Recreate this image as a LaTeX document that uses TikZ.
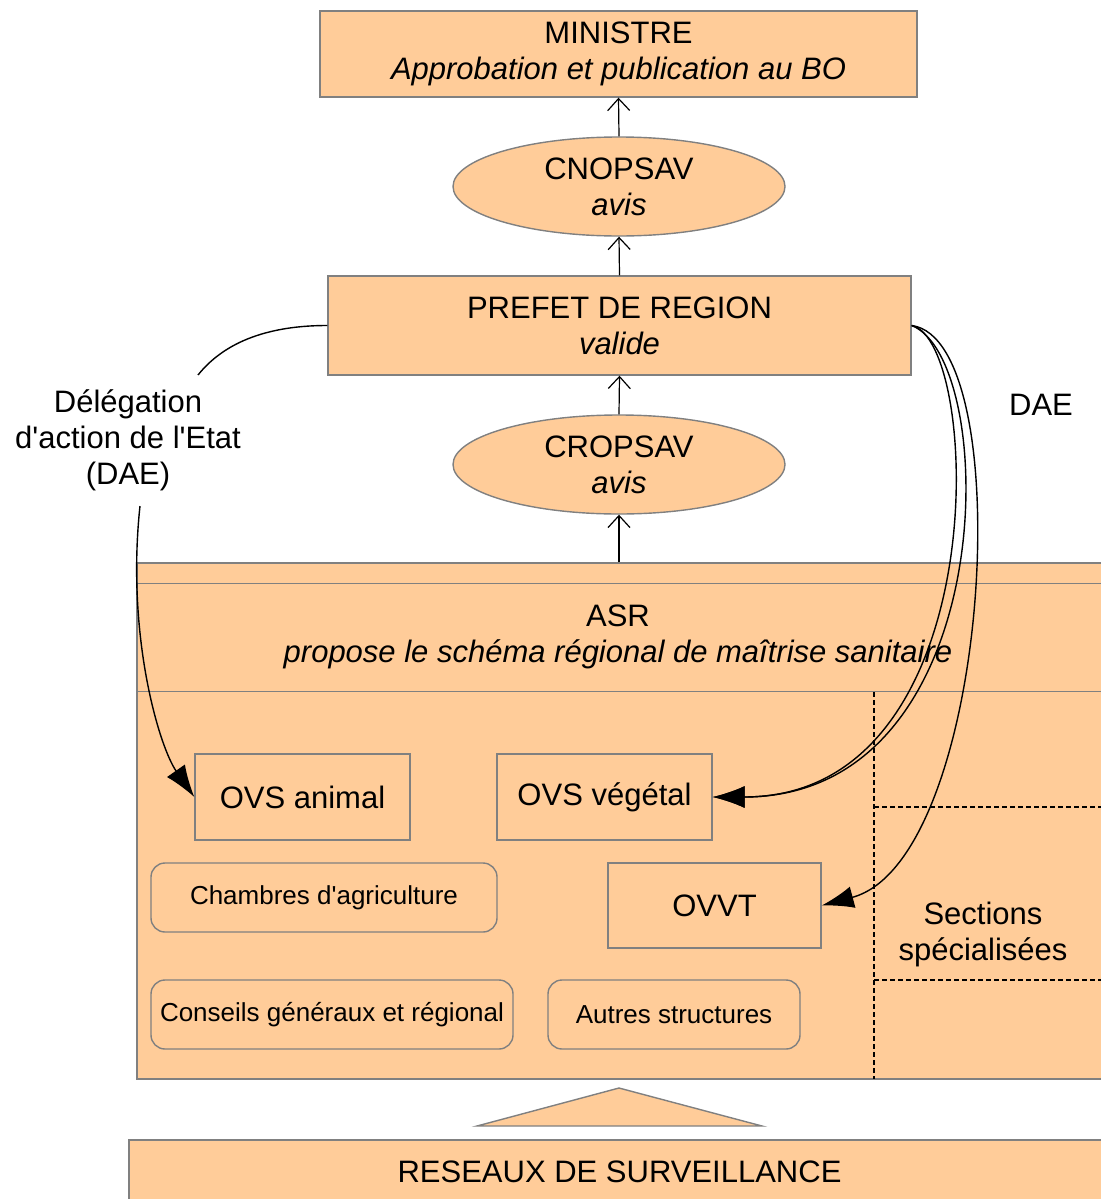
\documentclass[tikz,border=0pt]{standalone}
\usepackage{fontspec}
\setmainfont{Liberation Sans}[Ligatures=TeXOff]
\usetikzlibrary{shapes.geometric,arrows.meta}
\definecolor{peach}{RGB}{255,204,153}

\begin{document}
\begin{tikzpicture}[x=0.5pt,y=-0.5pt,
  font=\fontsize{15.5}{18}\selectfont,
  box/.style={draw=gray,fill=peach,line width=0.7pt,align=center,inner sep=0pt},
  oval/.style={box,ellipse,minimum width=166pt,minimum height=49.5pt},
  org/.style={box,rounded corners=7pt,minimum height=34.5pt,font=\fontsize{13}{15}\selectfont},
  up/.style={-{Straight Barb[length=6pt,width=11pt]},line width=0.6pt},
  dae/.style={-{Latex[length=16pt,width=11pt]},line width=0.7pt}]
  \useasboundingbox (0,0) rectangle (1100,1199);

  % chain of opinions up to the ministre
  \node[box,minimum width=298.5pt,minimum height=43pt] (min) at (618.5,54) {MINISTRE\\\textit{Approbation et publication au BO}};
  \node[oval] (cnop) at (619,186.5) {CNOPSAV\\\textit{avis}};
  \node[box,minimum width=291.5pt,minimum height=49.5pt] (pref) at (619.5,325.5) {PREFET DE REGION\\\textit{valide}};
  \node[oval] (crop) at (619,464.5) {CROPSAV\\\textit{avis}};

  % ASR frame
  \node[box,minimum width=486.5pt,minimum height=258pt] (asr) at (623.5,821) {};
  \draw[gray,line width=0.8pt] ([yshift=-10.5pt]asr.north west) -- ([yshift=-10.5pt]asr.north east);
  \draw[gray,line width=0.8pt] ([yshift=-64.5pt]asr.north west) -- ([yshift=-64.5pt]asr.north east);
  \node[align=center] (asrt) at (618,637) {ASR\\\textit{propose le schéma régional de maîtrise sanitaire}};
  \draw[dashed,dash pattern=on 2.5pt off 1.5pt,line width=0.6pt] (874,692) -- (874,1079);
  \draw[dashed,dash pattern=on 2.5pt off 1.5pt,line width=0.6pt] (874,807) -- (1110,807);
  \draw[dashed,dash pattern=on 2.5pt off 1.5pt,line width=0.6pt] (874,980) -- (1110,980);
  \node[align=center] (sect) at (983,934) {Sections\\spécialisées};

  \node[box,minimum width=107.5pt,minimum height=43pt] (ovsa) at (302.5,797) {OVS animal};
  \node[box,minimum width=107.5pt,minimum height=43pt] (ovsv) at (604.5,797) {OVS végétal};
  \node[box,minimum width=106.5pt,minimum height=42.5pt] (ovvt) at (714.5,905.5) {OVVT};
  \node[org,minimum width=173pt] (chamb) at (324,897.5) {Chambres d'agriculture};
  \node[org,minimum width=181pt] (cons) at (332,1014.5) {Conseils généraux et régional};
  \node[org,minimum width=126pt] (autres) at (674,1014.5) {Autres structures};

  % surveillance networks
  \filldraw[draw=gray,fill=peach,line width=0.7pt] (477,1126) -- (619,1088) -- (762,1126) -- cycle;
  \node[box,minimum width=490.5pt,minimum height=32pt] (res) at (619.5,1172) {RESEAUX DE SURVEILLANCE};

  \draw[up] (cnop.north) -- (min.south);
  \draw[up] (pref.north) -- (cnop.south);
  \draw[up] (crop.north) -- (pref.south);
  \draw[up] (crop.south |- asr.north) -- (crop.south);

  % delegations
  \node[align=center,inner sep=0pt] (dlg) at (128,440) {Délégation\\d'action de l'Etat\\(DAE)};
  \node (daer) at (1041,405) {DAE};
  \draw[line width=0.7pt] (pref.west) .. controls +(-78,0) and +(17,-21) .. ([shift={(70,-14)}]dlg.north);
  \draw[dae] ([shift={(12,15)}]dlg.south) .. controls +(-14,130) and +(-35,-50) .. (ovsa.west);
  \draw[dae] (pref.east) .. controls +(89,35) and +(290,0) .. (ovsv.east);
  \draw[dae] (pref.east) .. controls +(70,15) and +(285,0) .. (ovsv.east);
  \draw[dae] (pref.east) .. controls +(109,15) and +(169,-45) .. (ovvt.east);
\end{tikzpicture}
\end{document}
